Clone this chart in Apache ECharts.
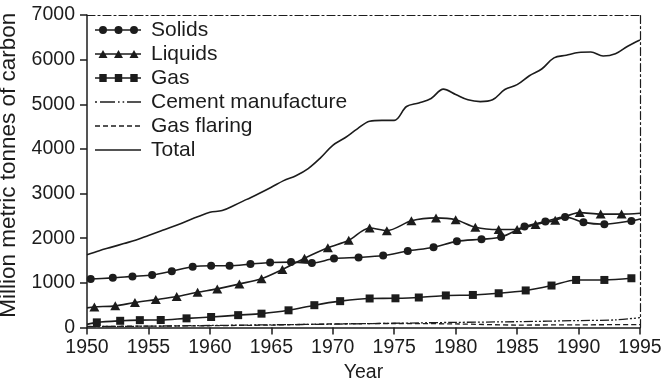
<!DOCTYPE html>
<html>
<head>
<meta charset="utf-8">
<script src="https://cdn.jsdelivr.net/npm/echarts@6/dist/echarts.min.js"></script>
<style>
  html, body { margin: 0; padding: 0; background: #fff; }
  #chart { width: 667px; height: 383px; }
</style>
</head>
<body>
<div id="chart"></div>
<script>
// Global carbon emissions by fuel type, 1950-1995 (million metric tonnes of carbon)

const seriesNames = ['Solids', 'Liquids', 'Gas', 'Cement manufacture', 'Gas flaring', 'Total'];
const xTicks = [1950, 1955, 1960, 1965, 1970, 1975, 1980, 1985, 1990, 1995];
const yTicks = [0, 1000, 2000, 3000, 4000, 5000, 6000, 7000];

// Marked series: year of each point and its value
const solidsYears  = [1950.0, 1950.3, 1952.1, 1953.7, 1955.3, 1956.9, 1958.6, 1960.1, 1961.6, 1963.3, 1964.9, 1966.6, 1968.3, 1970.1, 1972.1, 1974.1, 1976.1, 1978.2, 1980.1, 1982.1, 1983.7, 1985.6, 1987.3, 1988.9, 1990.4, 1992.1, 1994.3, 1995.0];
const solidsValues = [1075, 1085, 1112, 1145, 1175, 1262, 1362, 1383, 1383, 1420, 1455, 1465, 1443, 1545, 1570, 1612, 1712, 1798, 1930, 1977, 2025, 2260, 2372, 2478, 2355, 2314, 2388, 2430];

const liquidsYears  = [1950.0, 1950.6, 1952.3, 1953.9, 1955.6, 1957.3, 1959.0, 1960.6, 1962.4, 1964.2, 1965.9, 1967.7, 1969.6, 1971.3, 1973.0, 1974.4, 1976.4, 1978.4, 1980.0, 1981.6, 1983.5, 1985.0, 1986.5, 1988.1, 1990.1, 1991.8, 1993.5, 1995.0];
const liquidsValues = [440, 460, 485, 560, 625, 695, 790, 865, 975, 1094, 1300, 1551, 1785, 1955, 2230, 2170, 2390, 2455, 2415, 2247, 2195, 2195, 2310, 2400, 2574, 2540, 2540, 2560];

const gasYears  = [1950.0, 1950.8, 1952.7, 1954.3, 1956.0, 1958.1, 1960.1, 1962.3, 1964.2, 1966.4, 1968.5, 1970.6, 1973.0, 1975.1, 1977.0, 1979.2, 1981.4, 1983.5, 1985.7, 1987.8, 1989.8, 1992.1, 1994.3];
const gasValues = [70, 115, 150, 165, 168, 205, 235, 277, 310, 385, 500, 590, 650, 654, 672, 718, 729, 767, 830, 940, 1065, 1065, 1103];

// Unmarked series
const cementYears  = [1950, 1955, 1960, 1965, 1970, 1975, 1980, 1985, 1990, 1993, 1995];
const cementValues = [20, 30, 45, 60, 75, 95, 115, 130, 155, 170, 220];

const flaringYears  = [1950, 1955, 1960, 1965, 1970, 1975, 1980, 1985, 1990, 1995];
const flaringValues = [25, 30, 40, 55, 80, 90, 80, 55, 60, 65];

const totalYears  = [1950, 1951, 1952, 1953, 1954, 1955, 1956, 1957, 1958, 1959, 1960, 1961, 1962, 1963, 1964, 1965, 1966, 1967, 1968, 1969, 1970, 1971, 1972, 1973, 1974, 1975, 1976, 1977, 1978, 1979, 1980, 1981, 1982, 1983, 1984, 1985, 1986, 1987, 1988, 1989, 1990, 1991, 1992, 1993, 1994, 1995];
const totalValues = [1630, 1720, 1800, 1880, 1960, 2060, 2160, 2260, 2370, 2480, 2580, 2620, 2740, 2870, 3000, 3140, 3290, 3400, 3560, 3800, 4080, 4250, 4450, 4620, 4640, 4640, 4950, 5030, 5130, 5340, 5220, 5100, 5060, 5100, 5330, 5440, 5640, 5790, 6040, 6100, 6160, 6170, 6080, 6130, 6300, 6440];

const INK = '#1c1c1c';
const FONT = '"Liberation Sans", Arial, Helvetica, sans-serif';

// Pair years with values; the first/last points of a marked line carry no symbol
function pairs(years, values, bareStart, bareEnd) {
  return years.map((y, i) => {
    const item = { value: [y, values[i]] };
    if ((bareStart && i === 0) || (bareEnd && i === years.length - 1)) item.symbol = 'none';
    return item;
  });
}

// Legend icons drawn in a 46 x 8 box (all shapes wound clockwise so overlaps stay filled)
const LINE = 'M0 3.3 L46 3.3 L46 4.7 L0 4.7 Z ';
const CORNERS = 'M0 0 L0.05 0 L0 0.05 Z M46 8 L45.95 8 L46 7.95 Z ';
function circleAt(cx) { return `M${cx - 4} 4 A4 4 0 1 1 ${cx + 4} 4 A4 4 0 1 1 ${cx - 4} 4 Z `; }
function triAt(cx) { return `M${cx - 4.5} 8 L${cx} 0 L${cx + 4.5} 8 Z `; }
function sqAt(cx) { return `M${cx - 3.7} 0 L${cx + 3.7} 0 L${cx + 3.7} 8 L${cx - 3.7} 8 Z `; }
function seg(x0, x1) { return `M${x0} 3.3 L${x1} 3.3 L${x1} 4.7 L${x0} 4.7 Z `; }
const markerX = [8, 23.5, 39];
const icons = {
  'Solids': 'path://' + LINE + markerX.map(circleAt).join(''),
  'Liquids': 'path://' + LINE + markerX.map(triAt).join(''),
  'Gas': 'path://' + LINE + markerX.map(sqAt).join(''),
  'Cement manufacture': 'path://' + CORNERS + seg(0, 2) + seg(5, 20) + seg(23, 24.6) + seg(27.6, 29.2) + seg(32, 46),
  'Gas flaring': 'path://' + CORNERS + seg(0, 5) + seg(8, 13) + seg(16, 21) + seg(24, 29) + seg(32, 37) + seg(40, 45),
  'Total': 'path://' + CORNERS + seg(0, 46)
};

const chart = echarts.init(document.getElementById('chart'), null, { renderer: 'canvas' });

const baseLine = { color: INK, width: 1.6 };

chart.setOption({
  animation: false,
  backgroundColor: '#fff',
  textStyle: { fontFamily: FONT, color: INK },
  grid: { left: 87, right: 27, top: 15, bottom: 55.5, outerBoundsMode: 'none' },
  legend: {
    data: seriesNames.map(n => ({ name: n, icon: icons[n] })),
    orient: 'vertical',
    left: 95,
    top: 18,
    padding: 0,
    itemGap: 0,
    itemWidth: 46,
    itemHeight: 8,
    selectedMode: false,
    itemStyle: { borderWidth: 0 },
    textStyle: { fontSize: 21, lineHeight: 24, color: INK, fontFamily: FONT, padding: [0, 0, 0, 5] }
  },
  xAxis: [
    {
      type: 'value', min: xTicks[0], max: xTicks[xTicks.length - 1], interval: 5,
      name: 'Year', nameLocation: 'middle', nameGap: 30,
      nameTextStyle: { fontSize: 19.5, color: INK, fontFamily: FONT },
      axisLine: { lineStyle: { color: INK, width: 1.5 } },
      axisTick: { show: true, length: 7, inside: false, lineStyle: { color: INK, width: 1.5 } },
      axisLabel: { fontSize: 19.5, color: INK, margin: 10, fontFamily: FONT, formatter: v => String(v) },
      splitLine: { show: false }
    },
    {
      type: 'value', position: 'top', min: xTicks[0], max: xTicks[xTicks.length - 1],
      axisLine: { show: true, onZero: false, lineStyle: { color: INK, width: 1.2, type: [8, 3, 2, 3] } },
      axisTick: { show: false }, axisLabel: { show: false }, splitLine: { show: false }
    }
  ],
  yAxis: [
    {
      type: 'value', min: yTicks[0], max: yTicks[yTicks.length - 1], interval: 1000,
      name: 'Million metric tonnes of carbon', nameLocation: 'middle', nameGap: 63,
      nameTextStyle: { fontSize: 22.5, color: INK, fontFamily: FONT, padding: [0, 0, 0, 12] },
      axisLine: { show: true, lineStyle: { color: INK, width: 1.5 } },
      axisTick: { show: true, length: 7, inside: false, lineStyle: { color: INK, width: 1.5 } },
      axisLabel: { fontSize: 19.5, color: INK, margin: 12, fontFamily: FONT, formatter: v => String(v) },
      splitLine: { show: false }
    },
    {
      type: 'value', position: 'right', min: yTicks[0], max: yTicks[yTicks.length - 1],
      axisLine: { show: true, onZero: false, lineStyle: { color: INK, width: 1.2, type: [8, 3, 2, 3] } },
      axisTick: { show: false }, axisLabel: { show: false }, splitLine: { show: false }
    }
  ],
  series: [
    {
      name: 'Solids', type: 'line', smooth: 0.3,
      symbol: 'circle', symbolSize: 8, showAllSymbol: true,
      itemStyle: { color: INK, borderWidth: 0 },
      lineStyle: baseLine,
      data: pairs(solidsYears, solidsValues, true, true),
      z: 5
    },
    {
      name: 'Liquids', type: 'line', smooth: 0.3,
      symbol: 'triangle', symbolSize: [10, 9], showAllSymbol: true,
      itemStyle: { color: INK, borderWidth: 0 },
      lineStyle: baseLine,
      data: pairs(liquidsYears, liquidsValues, true, true),
      z: 5
    },
    {
      name: 'Gas', type: 'line', smooth: 0.3,
      symbol: 'rect', symbolSize: 8, showAllSymbol: true,
      itemStyle: { color: INK, borderWidth: 0 },
      lineStyle: baseLine,
      data: pairs(gasYears, gasValues, true, false),
      z: 5
    },
    {
      name: 'Cement manufacture', type: 'line', smooth: 0.3, symbol: 'none',
      itemStyle: { color: INK },
      lineStyle: { color: INK, width: 1.3, type: [9, 2, 2, 2, 2, 2] },
      data: pairs(cementYears, cementValues, false, false)
    },
    {
      name: 'Gas flaring', type: 'line', smooth: 0.3, symbol: 'none',
      itemStyle: { color: INK },
      lineStyle: { color: INK, width: 1.3, type: [5, 3] },
      data: pairs(flaringYears, flaringValues, false, false)
    },
    {
      name: 'Total', type: 'line', smooth: 0.35, symbol: 'none',
      itemStyle: { color: INK },
      lineStyle: baseLine,
      data: pairs(totalYears, totalValues, false, false)
    }
  ]
});
</script>
</body>
</html>
